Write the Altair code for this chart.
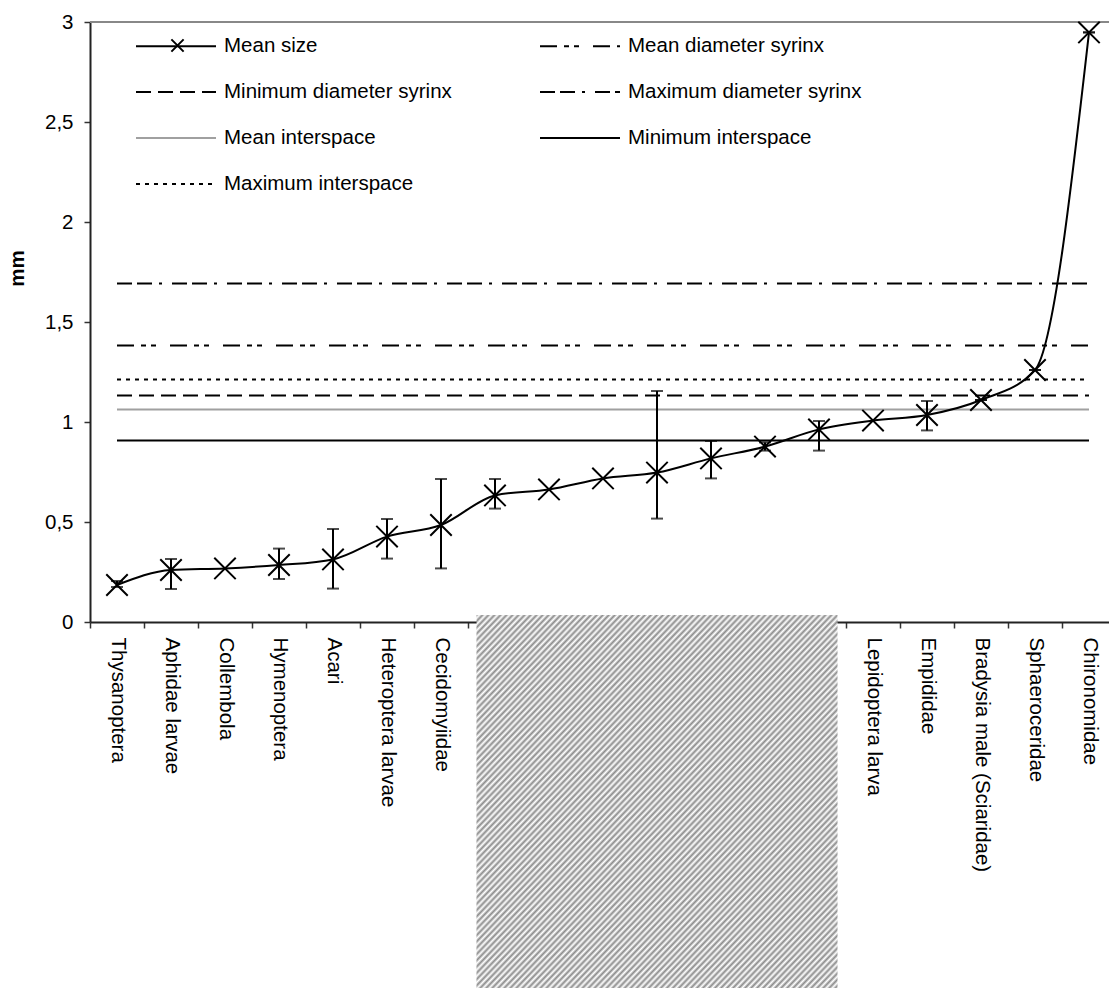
import altair as alt
import pandas as pd

# ---------------- data ----------------
categories = [
    "Thysanoptera", "Aphidae larvae", "Collembola", "Hymenoptera", "Acari",
    "Heteroptera larvae", "Cecidomyiidae",
    "hidden_1", "hidden_2", "hidden_3", "hidden_4", "hidden_5", "hidden_6", "hidden_7",
    "Lepidoptera larva", "Empididae", "Bradysia male (Sciaridae)", "Sphaeroceridae",
    "Chironomidae",
]
mean_size = [0.185, 0.26, 0.268, 0.285, 0.313, 0.427, 0.485,
             0.633, 0.663, 0.718, 0.747, 0.818, 0.877, 0.963,
             1.007, 1.035, 1.11, 1.26, 2.948]
err_low = [0.175, 0.165, None, 0.215, 0.167, 0.317, 0.268,
           0.567, None, None, 0.517, 0.718, 0.857, 0.857,
           None, 0.958, 1.11, 1.26, 2.948]
err_high = [0.205, 0.315, None, 0.367, 0.465, 0.515, 0.715,
            0.715, None, None, 1.155, 0.905, 0.898, 1.005,
            None, 1.105, 1.11, 1.26, 2.948]

# legend order (filled column by column: 4 rows x 2 columns)
series_names = ["Mean size", "Minimum diameter syrinx", "Mean interspace", "Maximum interspace",
                "Mean diameter syrinx", "Maximum diameter syrinx", "Minimum interspace"]
series_colors = ["#000000", "#000000", "#a0a0a0", "#000000", "#000000", "#000000", "#000000"]
series_dashes = [[1, 0], [15, 7], [1, 0], [4, 5], [17, 7, 5, 5, 5, 14], [15, 5, 15, 7, 3, 10], [1, 0]]
series_widths = [2, 2, 3, 2, 3.5, 2.2, 2]

ref_names = ["Mean diameter syrinx", "Minimum diameter syrinx", "Maximum diameter syrinx",
             "Mean interspace", "Minimum interspace", "Maximum interspace"]
ref_values = [1.383, 1.132, 1.693, 1.063, 0.907, 1.213]

# hidden (hatched) block, in category-index units
hatch_start = [7.157]
hatch_end = [13.843]

# ---------------- tables ----------------
df = pd.DataFrame({"cat": categories, "mean": mean_size, "lo": err_low, "hi": err_high})
df["kind"] = "Mean size"
df_err = df.dropna(subset=["lo"])
ref_rows = []
for n, v in zip(ref_names, ref_values):
    ref_rows.append({"series": n, "cat": categories[0], "value": v})
    ref_rows.append({"series": n, "cat": categories[-1], "value": v})
df_ref = pd.DataFrame(ref_rows)
df_hatch = pd.DataFrame({"a": hatch_start, "b": hatch_end, "top": [0.035], "bottom": [-1.85]})

FONT = "Liberation Sans"
FS = 20.5
PLOT_W = 1019
BAND_RANGE = [0, 1026]
X_PATH = "M-1,-1L1,1M-1,1L1,-1"

xscale = alt.Scale(domain=categories, type="band", paddingInner=0, paddingOuter=0, range=BAND_RANGE)
yscale = alt.Scale(domain=[0, 3], nice=False, zero=False)

x_axis = alt.Axis(
    title=None, labelAngle=90, labelFont=FONT, labelFontSize=FS, labelColor="black",
    labelPadding=9, tickSize=6, tickColor="#333333", tickWidth=1.5, tickBand="extent",
    domainColor="#222222", domainWidth=2, labelLimit=400, grid=False,
    labelExpr="indexof(datum.label, 'hidden_') >= 0 ? '' : datum.label",
)
y_axis = alt.Axis(
    title="mm", titleFont=FONT, titleFontSize=FS, titleFontWeight="bold", titleColor="black",
    titleX=-73, titleY=246, titleAngle=270, titleAlign="center", titleBaseline="middle",
    values=[0, 0.5, 1, 1.5, 2, 2.5, 3], grid=False,
    labelFont=FONT, labelFontSize=FS, labelColor="black", labelPadding=11,
    tickSize=6, tickColor="#333333", tickWidth=1.5, domainColor="#222222", domainWidth=2,
    labelExpr="replace(format(datum.value, '.1~f'), '.', ',')",
)

legend_def = alt.Legend(
    title=None, orient="none", legendX=17, legendY=13, columns=2,
    columnPadding=59, rowPadding=24, padding=0,
    labelFont=FONT, labelFontSize=FS, labelColor="black", labelOffset=37, labelLimit=500,
    symbolType="M-4,0L4,0", symbolSize=400, symbolOffset=58,
    symbolFillColor="transparent",
)

color_enc = alt.Color("series:N", scale=alt.Scale(domain=series_names, range=series_colors), legend=legend_def)
dash_enc = alt.StrokeDash("series:N", scale=alt.Scale(domain=series_names, range=series_dashes), legend=legend_def)
width_enc = alt.StrokeWidth("series:O", scale=alt.Scale(domain=series_names, range=series_widths), legend=legend_def)

X = lambda f: alt.X(f, scale=xscale, sort=categories, title=None)
Y = lambda f: alt.Y(f, scale=yscale, title="mm")

top_border = alt.Chart(pd.DataFrame({"v": [3]})).mark_rule(color="#888888", strokeWidth=2).encode(
    y=Y("v:Q")
)

ref_lines = alt.Chart(df_ref).mark_line().encode(
    x=alt.X("cat:N", scale=xscale, axis=x_axis, sort=categories, title=None),
    y=alt.Y("value:Q", scale=yscale, axis=y_axis, title="mm"),
    color=color_enc, strokeDash=dash_enc, strokeWidth=width_enc,
    detail="series:N",
)

mean_line = alt.Chart(df).mark_line(color="black", strokeWidth=2, interpolate="monotone").encode(
    x=X("cat:N"), y=Y("mean:Q"),
)

err_rule = alt.Chart(df_err).mark_rule(color="black", strokeWidth=2).encode(
    x=X("cat:N"), y=Y("lo:Q"), y2="hi:Q",
)
cap_lo = alt.Chart(df_err).mark_tick(color="black", thickness=2, size=12, orient="horizontal").encode(
    x=X("cat:N"), y=Y("lo:Q"),
)
cap_hi = alt.Chart(df_err).mark_tick(color="black", thickness=2, size=12, orient="horizontal").encode(
    x=X("cat:N"), y=Y("hi:Q"),
)

points = alt.Chart(df).mark_point(
    size=460, filled=False, stroke="black", strokeWidth=2, opacity=1
).encode(
    x=X("cat:N"), y=Y("mean:Q"),
    shape=alt.Shape("kind:N", scale=alt.Scale(domain=["Mean size"], range=[X_PATH]),
                    legend=alt.Legend(title=None, orient="none", legendX=80, legendY=16, padding=0,
                                      symbolSize=150, symbolStrokeWidth=2, symbolStrokeColor="black",
                                      symbolFillColor="transparent", labelOpacity=0, labelFontSize=1)),
)

# hatched block (diagonal stripes through a repeating linear gradient)
N = 120
period = 1.0 / N
stops = []
for k in range(N):
    t0 = k * period
    stops.append({"offset": round(t0, 6), "color": "#8c8c8c"})
    stops.append({"offset": round(t0 + 0.5 * period, 6), "color": "#ffffff"})
stops.append({"offset": 1.0, "color": "#8c8c8c"})
hatch_fill = {"gradient": "linear", "x1": 0, "y1": 0, "x2": 1, "y2": 1, "stops": stops}

hatch = alt.Chart(df_hatch).mark_rect(clip=False).encode(
    x=alt.X("a:Q", scale=alt.Scale(domain=[0, 19], range=BAND_RANGE, nice=False, zero=False), axis=None),
    x2="b:Q",
    y=Y("top:Q"),
    y2="bottom:Q",
    fill=alt.value(hatch_fill),
)

main = alt.layer(top_border, ref_lines, mean_line, err_rule, cap_lo, cap_hi, points)
chart = alt.layer(main, hatch).resolve_scale(x="independent").properties(
    width=PLOT_W, height=600,
    autosize=alt.AutoSizeParams(type="none"),
    padding={"left": 90, "top": 22, "right": 0, "bottom": 366},
).configure_view(stroke=None)

chart.save("out.html", embed_options={"renderer": "svg", "actions": False})
